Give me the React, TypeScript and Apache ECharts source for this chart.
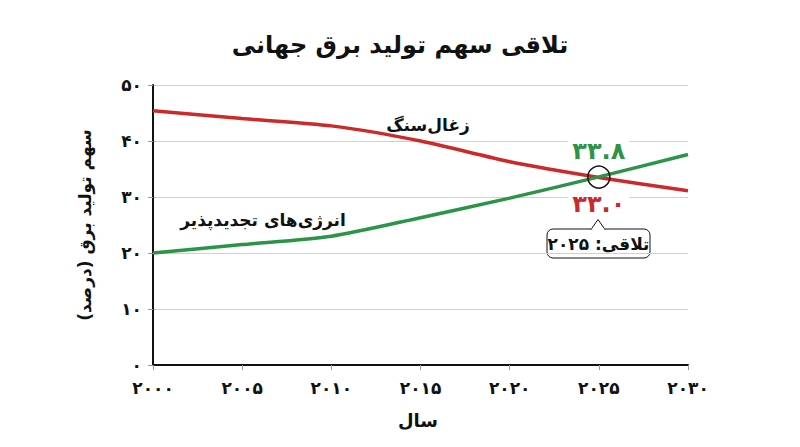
import React, { useEffect, useRef } from 'react';
import * as echarts from 'echarts';

const years = ['2000', '2005', '2010', '2015', '2020', '2025', '2030'];
const coal = [45.4, 44.0, 42.7, 40.0, 36.3, 33.5, 31.1];
const renewables = [20.0, 21.5, 23.0, 26.3, 29.8, 33.6, 37.6];
const yTicks = [0, 10, 20, 30, 40, 50];
const crossIndex = 5;
const coalLabel = '33.0';
const renewLabel = '33.8';

const FONT = '"DejaVu Sans", sans-serif';
const RED = '#cc2a2a';
const GREEN = '#2b9447';

const fa = (v: string | number) => String(v).replace(/\d/g, (d) => '۰۱۲۳۴۵۶۷۸۹'[Number(d)]);

const App = () => {
  const ref = useRef<HTMLDivElement>(null);

  useEffect(() => {
    if (!ref.current) return;
    const chart = echarts.init(ref.current, null, { renderer: 'svg' });

    const cross = (coal[crossIndex] + renewables[crossIndex]) / 2;

    const valueMark = (text: string, color: string, dy: number) => ({
      silent: true,
      symbol: 'rect',
      symbolSize: 1,
      itemStyle: { color: 'rgba(0,0,0,0)' },
      label: {
        show: true,
        position: 'inside',
        offset: [0, dy],
        formatter: fa(text),
        color,
        fontFamily: FONT,
        fontWeight: 'bold',
        fontSize: 24,
        backgroundColor: '#fff',
        padding: [0, 4],
      },
      data: [{ coord: [crossIndex, cross] }],
    });

    const option: echarts.EChartsOption = {
      animation: false,
      textStyle: { fontFamily: FONT },
      title: {
        text: 'تلاقی سهم تولید برق جهانی',
        left: 'center',
        top: 28,
        textStyle: { fontFamily: FONT, fontWeight: 'bold', fontSize: 24, color: '#111' },
      },
      grid: { left: 153, right: 112, top: 85, bottom: 82 },
      xAxis: {
        type: 'category',
        data: years,
        boundaryGap: false,
        axisLine: { lineStyle: { color: '#111', width: 2 } },
        axisTick: { show: true, length: 5, lineStyle: { color: '#999' } },
        axisLabel: {
          formatter: (v: string) => fa(v),
          color: '#111',
          fontWeight: 'bold',
          fontSize: 17,
          margin: 14,
          fontFamily: FONT,
        },
        splitLine: { show: false },
      },
      yAxis: {
        type: 'value',
        min: yTicks[0],
        max: yTicks[yTicks.length - 1],
        interval: 10,
        name: 'سهم تولید برق (درصد)',
        nameLocation: 'middle',
        nameRotate: 90,
        nameGap: 60,
        nameTextStyle: { fontFamily: FONT, fontWeight: 'bold', fontSize: 17, color: '#111' },
        axisLine: { show: true, lineStyle: { color: '#111', width: 2 } },
        axisTick: { show: true, length: 5, lineStyle: { color: '#999' } },
        axisLabel: {
          formatter: (v: number) => fa(v),
          color: '#111',
          fontWeight: 'bold',
          fontSize: 17,
          margin: 11,
          fontFamily: FONT,
        },
        splitLine: { lineStyle: { color: '#cfcfcf', width: 1 } },
      },
      series: [
        {
          name: 'زغال‌سنگ',
          type: 'line',
          data: coal,
          smooth: 0.25,
          showSymbol: false,
          symbol: 'none',
          lineStyle: { color: RED, width: 3.5 },
          itemStyle: { color: RED },
          z: 2,
          markPoint: valueMark(coalLabel, RED, 27),
        },
        {
          name: 'انرژی‌های تجدیدپذیر',
          type: 'line',
          data: renewables,
          smooth: 0.25,
          showSymbol: false,
          symbol: 'none',
          lineStyle: { color: GREEN, width: 3.5 },
          itemStyle: { color: GREEN },
          z: 3,
          markPoint: valueMark(renewLabel, GREEN, -26),
        },
        {
          name: 'cross',
          type: 'line',
          data: [],
          z: 4,
          markPoint: {
            silent: true,
            symbol: 'circle',
            symbolSize: 22,
            itemStyle: { color: 'rgba(0,0,0,0)', borderColor: '#111', borderWidth: 1.5 },
            label: { show: false },
            data: [{ coord: [crossIndex, cross] }],
          },
        },
      ],
      graphic: [
        {
          type: 'text',
          x: 428,
          y: 125,
          style: {
            text: 'زغال‌سنگ',
            fill: '#111',
            font: `bold 17px ${FONT}`,
            align: 'center',
            verticalAlign: 'middle',
          },
        },
        {
          type: 'text',
          x: 263,
          y: 220,
          style: {
            text: 'انرژی‌های تجدیدپذیر',
            fill: '#111',
            font: `bold 17px ${FONT}`,
            align: 'center',
            verticalAlign: 'middle',
          },
        },
        {
          type: 'text',
          x: 418,
          y: 420,
          style: {
            text: 'سال',
            fill: '#111',
            font: `bold 18px ${FONT}`,
            align: 'center',
            verticalAlign: 'middle',
          },
        },
        {
          type: 'group',
          children: [
            {
              type: 'rect',
              shape: { x: 547, y: 229, width: 103, height: 29, r: 6 },
              style: { fill: '#fff', stroke: '#111', lineWidth: 1 },
            },
            {
              type: 'polygon',
              shape: { points: [[591, 229.5], [598, 219.5], [605, 229.5]] },
              style: { fill: '#fff', stroke: '#111', lineWidth: 1 },
            },
            {
              type: 'line',
              shape: { x1: 591.5, y1: 229.5, x2: 604.5, y2: 229.5 },
              style: { stroke: '#fff', lineWidth: 2 },
            },
            {
              type: 'text',
              x: 598.5,
              y: 243.5,
              style: {
                text: 'تلاقی: ' + fa('2025'),
                fill: '#111',
                font: `bold 17px ${FONT}`,
                align: 'center',
                verticalAlign: 'middle',
              },
            },
          ],
        },
      ],
    };

    chart.setOption(option);
    return () => chart.dispose();
  }, []);

  return (
    <div
      ref={ref}
      style={{ position: 'absolute', left: 0, top: 0, width: 800, height: 447, background: '#fff' }}
    />
  );
};

export default App;
